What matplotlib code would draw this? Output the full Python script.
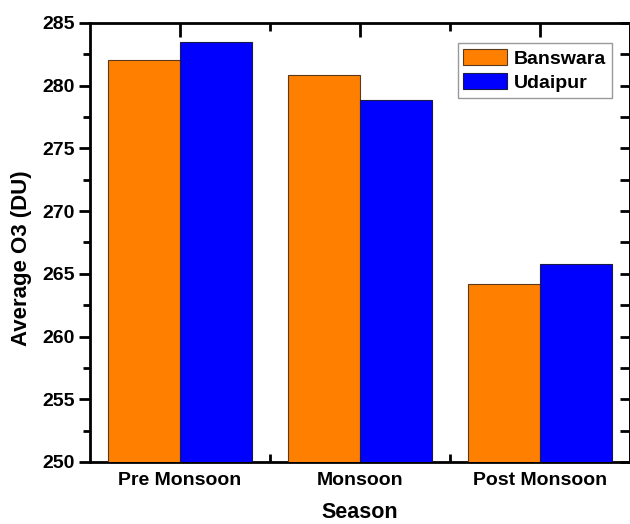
import matplotlib.pyplot as plt
import numpy as np

seasons = ['Pre Monsoon', 'Monsoon', 'Post Monsoon']
banswara = [282.05, 280.85, 264.2]
udaipur = [283.45, 278.85, 265.8]

plt.rcParams['font.family'] = ['Liberation Sans', 'DejaVu Sans']
plt.rcParams['font.weight'] = 'bold'

fig = plt.figure(figsize=(6.3, 5.24), dpi=100)
ax = fig.add_axes([90/630, 62/524, 539.5/630, 439/524])

x = np.arange(1, len(seasons) + 1)
w = 0.4
ax.bar(x - w/2, banswara, w, color='#FF8000', edgecolor='#5a3a1a', linewidth=0.8,
       label='Banswara', zorder=3)
ax.bar(x + w/2, udaipur, w, color='#0000FF', edgecolor='#1a1a4a', linewidth=0.8,
       label='Udaipur', zorder=3)

ax.set_xlim(0.5, 3.5)
ax.set_ylim(250, 285)
ax.set_xticks(x)
ax.set_xticklabels(seasons, fontsize=14, fontweight='bold')
ax.set_xticks([1.5, 2.5], minor=True)
ax.set_yticks(np.arange(250, 286, 5))
ax.set_yticks(np.arange(252.5, 285, 5), minor=True)
for lab in ax.get_yticklabels():
    lab.set_fontsize(14)
    lab.set_fontweight('bold')

for s in ax.spines.values():
    s.set_linewidth(2)

ax.tick_params(axis='y', which='major', direction='out', length=8, width=2, left=True, right=False, pad=3)
ax.tick_params(axis='y', which='minor', direction='out', length=5, width=2, left=True, right=False)
ax.tick_params(axis='x', which='major', direction='in', length=10, width=2, top=True, bottom=True, pad=7)
ax.tick_params(axis='x', which='minor', direction='in', length=6, width=2, top=True, bottom=True)

# right side inward ticks without labels
ay = ax.secondary_yaxis('right')
ay.set_yticks(np.arange(250, 286, 5))
ay.set_yticks(np.arange(252.5, 285, 5), minor=True)
ay.tick_params(which='both', direction='in', length=7, width=2, labelright=False)
ay.spines['right'].set_linewidth(2)

ax.set_xlabel('Season', fontsize=15.5, fontweight='bold')
ax.xaxis.set_label_coords(0.5, -0.092)
ax.set_ylabel('Average O3 (DU)', fontsize=16, fontweight='bold')
ax.yaxis.set_label_coords(-0.107, 0.465)

leg = ax.legend(loc='upper right', bbox_to_anchor=(0.9676, 0.954), borderaxespad=0,
                fontsize=14, handlelength=2.25, handleheight=0.85, handletextpad=0.35,
                borderpad=0.3, labelspacing=0.3, fancybox=False, framealpha=1)
leg.get_frame().set_edgecolor('#999999')
leg.get_frame().set_linewidth(1)

fig.savefig('out.png', dpi=100)
